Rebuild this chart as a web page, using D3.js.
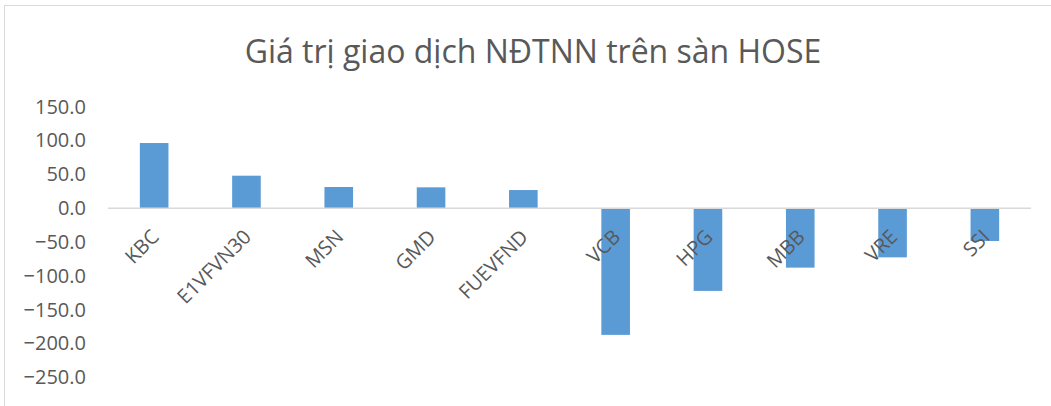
<!DOCTYPE html>
<html>
<head>
<meta charset="utf-8">
<script src="https://cdn.jsdelivr.net/npm/d3@7"></script>
<style>
  body { margin: 0; background: #fff; }
  svg { display: block; }
  text { font-family: "Open Sans", "Noto Sans", sans-serif; fill: #595959; }
</style>
</head>
<body>
<div id="chart"></div>
<script>
// data
var categories = ["KBC", "E1VFVN30", "MSN", "GMD", "FUEVFND", "VCB", "HPG", "MBB", "VRE", "SSI"];
var values = [96.3, 48.0, 31.3, 30.8, 26.8, -187.3, -122.3, -87.9, -72.7, -48.5];
var yTicks = [150, 100, 50, 0, -50, -100, -150, -200, -250];
var title = "Giá trị giao dịch NĐTNN trên sàn HOSE";

var width = 1051, height = 406;
var plot = {left: 108, right: 1031, top: 106.7, bottom: 377.3};

var svg = d3.select("#chart").append("svg")
	.attr("width", width).attr("height", height);

// chart frame (only top and left edges visible)
svg.append("rect")
	.attr("x", 4.5).attr("y", 5.5)
	.attr("width", width + 20).attr("height", height + 20)
	.attr("fill", "none").attr("stroke", "#d9d9d9").attr("stroke-width", 1);

svg.append("text")
	.attr("x", 533).attr("y", 63)
	.attr("text-anchor", "middle")
	.style("font-size", "32px")
	.text(title);

var x = d3.scaleBand()
	.domain(categories)
	.range([plot.left, plot.right])
	.paddingInner(0.69).paddingOuter(0.345);

var y = d3.scaleLinear()
	.domain([-250, 150])
	.range([plot.bottom, plot.top]);

// y axis labels, no line
var yAxis = d3.axisLeft(y).tickValues(yTicks)
	.tickFormat(d3.format(".1f")).tickSize(0).tickPadding(0);
var gy = svg.append("g").attr("transform", "translate(86,0)").call(yAxis);
gy.select(".domain").remove();
gy.selectAll("text")
	.style("font-size", "20px")
	.style("font-family", "'Open Sans', sans-serif")
	.attr("fill", "#595959");

// bars
svg.selectAll(".bar")
	.data(values).enter()
	.append("rect")
	.attr("class", "bar")
	.attr("x", function (d, i) { return x(categories[i]); })
	.attr("y", function (d) { return y(Math.max(0, d)); })
	.attr("width", x.bandwidth())
	.attr("height", function (d) { return Math.abs(y(d) - y(0)); })
	.attr("fill", "#5b9bd5");

// zero line
svg.append("line")
	.attr("x1", plot.left).attr("x2", plot.right)
	.attr("y1", y(0)).attr("y2", y(0))
	.attr("stroke", "#d9d9d9").attr("stroke-width", 1.5);

// category labels rotated -45
var xAxis = d3.axisBottom(x).tickSize(0).tickPadding(0);
var gx = svg.append("g").attr("transform", "translate(0," + y(0) + ")").call(xAxis);
gx.select(".domain").remove();
gx.selectAll("text")
	.style("font-size", "20px")
	.style("font-family", "'Open Sans', sans-serif")
	.attr("fill", "#595959")
	.attr("text-anchor", "end")
	.attr("dy", "0")
	.attr("y", 0)
	.attr("transform", "translate(6,30) rotate(-45)");
</script>
</body>
</html>
